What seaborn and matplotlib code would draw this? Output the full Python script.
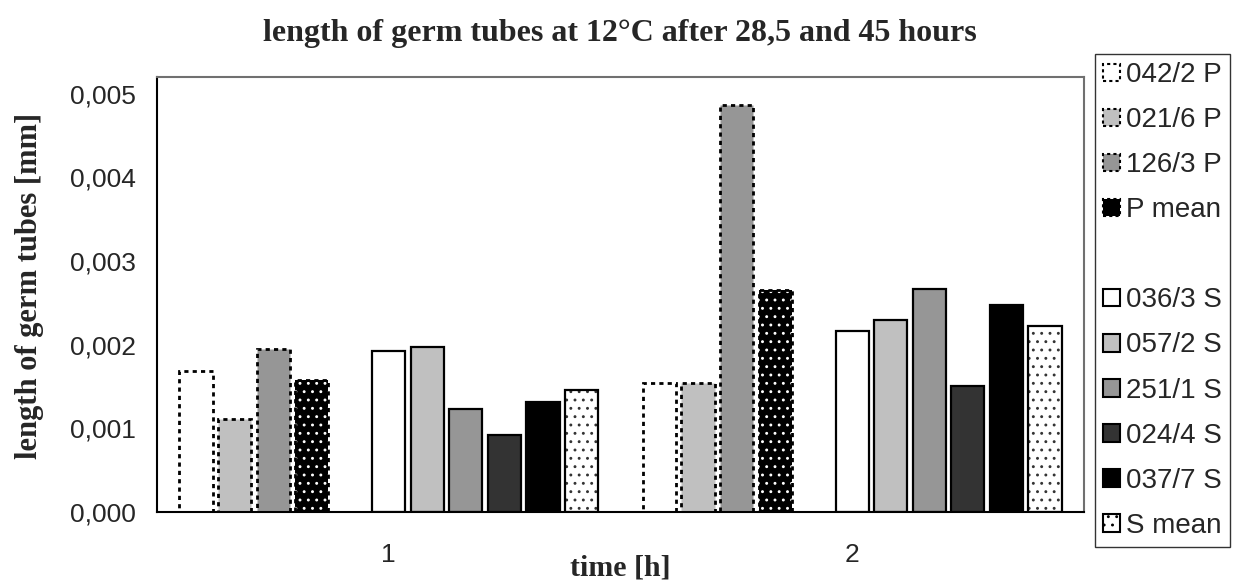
import numpy as np
import pandas as pd
import matplotlib
matplotlib.use("Agg")
import matplotlib.pyplot as plt
import matplotlib.patches as mpatches
from matplotlib.ticker import FuncFormatter, FixedLocator
import seaborn as sns

# ---- data ----
categories = ["1", "2"]
series = ["042/2 P", "021/6 P", "126/3 P", "P mean", " ",
          "036/3 S", "057/2 S", "251/1 S", "024/4 S", "037/7 S", "S mean"]
v_042_2_P = [0.00168, 0.00154]
v_021_6_P = [0.00111, 0.00154]
v_126_3_P = [0.00195, 0.00486]
v_P_mean = [0.00158, 0.00265]
v_036_3_S = [0.00192, 0.00216]
v_057_2_S = [0.00197, 0.00230]
v_251_1_S = [0.00123, 0.00266]
v_024_4_S = [0.00092, 0.00151]
v_037_7_S = [0.00131, 0.00247]
v_S_mean = [0.00146, 0.00222]
yticks = [0.000, 0.001, 0.002, 0.003, 0.004, 0.005]

values = {
    "042/2 P": v_042_2_P, "021/6 P": v_021_6_P, "126/3 P": v_126_3_P,
    "P mean": v_P_mean, "036/3 S": v_036_3_S, "057/2 S": v_057_2_S,
    "251/1 S": v_251_1_S, "024/4 S": v_024_4_S, "037/7 S": v_037_7_S,
    "S mean": v_S_mean,
}
rows = []
for s, vals in values.items():
    for c, v in zip(categories, vals):
        rows.append({"time": c, "series": s, "value": v})
df = pd.DataFrame(rows)

fills = {"042/2 P": "white", "021/6 P": "#C0C0C0", "126/3 P": "#969696",
         "P mean": "black", " ": "white", "036/3 S": "white", "057/2 S": "#C0C0C0",
         "251/1 S": "#969696", "024/4 S": "#333333", "037/7 S": "black",
         "S mean": "white"}
dashed = {"042/2 P", "021/6 P", "126/3 P", "P mean"}
dotted = {"P mean": "white", "S mean": "#333333"}

sns.set_style("white")
plt.rcParams["font.family"] = ["Liberation Sans", "DejaVu Sans"]
plt.rcParams["hatch.linewidth"] = 0.9

fig = plt.figure(figsize=(12.34, 5.83), dpi=100)
ax = fig.add_axes([157/1234, 1 - 512/583, (1084-157)/1234, (512-77)/583])

sns.barplot(data=df, x="time", y="value", hue="series", hue_order=series,
            order=categories, palette=fills, width=0.915, gap=0.14,
            saturation=1, legend=False, ax=ax, errorbar=None)

present = [s for s in series if s in values]
labels_for = series if len(ax.containers) == len(series) else present
DASH = (0, (1.5, 1.5))
for lab, cont in zip(labels_for, ax.containers):
    if lab not in values:
        for p in cont.patches:
            p.set_visible(False)
        continue
    for p in cont.patches:
        p.set_facecolor(fills[lab])
        lw = 2.0 if lab in dashed else 1.6
        if lab in dotted:
            p.set_linewidth(0)
            p.set_hatch("..")
            p.set_edgecolor(dotted[lab])
            if hasattr(p, "set_hatchcolor"):
                p.set_hatchcolor(dotted[lab])
            ov = mpatches.Rectangle((p.get_x(), p.get_y()), p.get_width(), p.get_height(),
                                    fill=False, edgecolor="black", linewidth=lw,
                                    linestyle=DASH if lab in dashed else "solid",
                                    zorder=p.get_zorder() + 0.1)
            ax.add_patch(ov)
        else:
            p.set_edgecolor("black")
            p.set_linewidth(lw)
            p.set_linestyle(DASH if lab in dashed else "solid")

ax.set_xlim(-0.5, 1.5)
ax.set_ylim(0, 0.0052)
ax.set_yticks(yticks)
ax.yaxis.set_major_formatter(FuncFormatter(lambda v, pos: f"{v:.3f}".replace(".", ",")))
ax.xaxis.set_major_locator(FixedLocator([-0.5, 0.5, 1.5]))
ax.xaxis.set_minor_locator(FixedLocator([0, 1]))
ax.set_xticklabels([], minor=False)
ax.set_xticklabels(categories, minor=True)
ax.tick_params(axis="x", which="major", direction="out", length=7, width=1, color="#404040")
ax.tick_params(axis="x", which="minor", length=0, pad=22, labelsize=19)
ax.tick_params(axis="y", direction="out", length=8, width=1, color="#404040", pad=7, labelsize=19)
ax.set_xlabel("")
ax.set_ylabel("")
for side in ["left", "bottom"]:
    ax.spines[side].set_color("black")
    ax.spines[side].set_linewidth(1.5)
for side in ["top", "right"]:
    ax.spines[side].set_color("#707070")
    ax.spines[side].set_linewidth(1.5)

serif = ["Liberation Serif", "DejaVu Serif"]
fig.text(620/1234, 1 - 33/583, "length of germ tubes at 12°C after 28,5 and 45 hours",
         ha="center", va="center", fontsize=23, fontweight="bold", family=serif)
fig.text(30/1234, 1 - 286/583, "length of germ tubes [mm]", rotation=90,
         ha="center", va="center", fontsize=22, fontweight="bold", family=serif)
fig.text(620/1234, 1 - 568/583, "time [h]", ha="center", va="center",
         fontsize=21.5, fontweight="bold", family=serif)

handles = []
for s in series:
    if s == " ":
        handles.append(mpatches.Patch(facecolor="none", edgecolor="none", label=s))
        continue
    h = mpatches.Patch(facecolor=fills[s], edgecolor="black", linewidth=1.5,
                       linestyle=(0, (1.5, 1.5)) if s in dashed else "solid", label=s)
    if s in dotted:
        h.set_hatch("..")
    handles.append(h)

leg = fig.legend(handles=handles, loc="upper left",
                 bbox_to_anchor=(1095/1234, 1 - 54/583), fontsize=20,
                 frameon=True, fancybox=False, edgecolor="black",
                 handlelength=0.6, handleheight=0.6, handletextpad=0.2,
                 labelspacing=0.685, borderpad=0.3, borderaxespad=0)
leg.get_frame().set_linewidth(1.0)

fig.savefig("out.png", dpi=100, facecolor="white")
